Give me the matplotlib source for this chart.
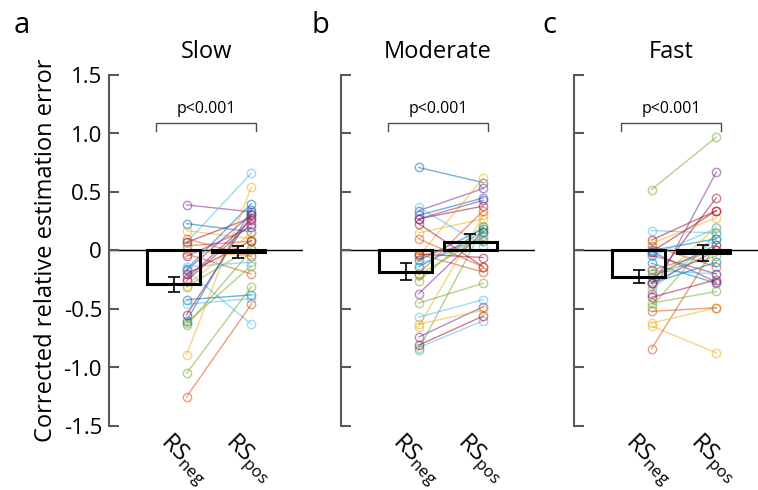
import numpy as np
import matplotlib
matplotlib.use("Agg")
import matplotlib.pyplot as plt

plt.rcParams['font.family'] = ['Open Sans', 'DejaVu Sans']
plt.rcParams['mathtext.fontset'] = 'custom'
plt.rcParams['mathtext.rm'] = 'Open Sans'

speeds = ['Slow', 'Moderate', 'Fast']
letters = ['a', 'b', 'c']
xlabels = [r'$\mathrm{RS}_{\mathrm{neg}}$', r'$\mathrm{RS}_{\mathrm{pos}}$']
p_labels = ['p<0.001', 'p<0.001', 'p<0.001']
yticks = [-1.5, -1.0, -0.5, 0, 0.5, 1.0, 1.5]
yticklabels = ['-1.5', '-1.0', '-0.5', '0', '0.5', '1.0', '1.5']

# one value per subject; subject i gets colour i % 7
slow_neg = [0.23, 0.04, 0.17, 0.39, -0.31, 0.07, 0.07,
            -0.16, -0.03, -0.89, -0.17, -0.62, -0.17, -0.24,
            -0.42, -1.25, 0.00, -0.26, -0.64, -0.46, -0.55,
            -0.60, 0.10, -0.30, -0.05, -1.05, -0.14, -0.20]
slow_pos = [0.16, 0.08, 0.10, 0.33, 0.02, 0.66, 0.28,
            0.40, -0.20, 0.54, 0.31, -0.13, -0.63, 0.26,
            -0.38, -0.46, -0.05, 0.23, 0.00, -0.41, 0.30,
            0.35, -0.05, 0.15, 0.20, -0.31, -0.10, 0.085]

mod_neg = [0.71, -0.03, 0.15, 0.34, -0.26, 0.37, 0.27,
           0.30, -0.05, -0.05, -0.37, -0.85, -0.57, 0.23,
           -0.085, 0.10, -0.65, -0.74, -0.45, -0.83, -0.81,
           -0.14, -0.20, -0.63, 0.27, -0.21, -0.12, -0.03]
mod_pos = [0.58, -0.185, 0.27, 0.53, 0.21, 0.04, 0.38,
           0.45, 0.085, 0.62, 0.16, 0.20, -0.42, -0.14,
           0.185, -0.14, 0.30, -0.48, -0.28, -0.60, -0.56,
           0.16, 0.34, -0.51, 0.43, 0.12, 0.10, -0.06]

fast_neg = [-0.11, 0.04, -0.645, -0.37, 0.52, 0.17, 0.09,
            -0.23, -0.84, -0.62, -0.01, -0.45, -0.17, -0.28,
            -0.28, -0.52, 0.06, -0.04, -0.48, -0.33, -0.01,
            0.00, -0.17, -0.30, -0.28, -0.20, -0.05, -0.40]
fast_pos = [-0.28, -0.14, -0.875, 0.67, 0.97, 0.15, 0.34,
            0.05, 0.05, -0.49, -0.27, -0.35, -0.20, 0.45,
            -0.10, -0.49, 0.28, -0.20, 0.15, 0.10, 0.34,
            0.10, 0.00, 0.20, 0.00, -0.05, 0.19, -0.25]

# group means and SEM (neg, pos)
bar_mean = [[-0.29, -0.015], [-0.18, 0.07], [-0.225, -0.02]]
bar_sem = [[0.065, 0.05], [0.07, 0.07], [0.055, 0.07]]

subjects = [(slow_neg, slow_pos), (mod_neg, mod_pos), (fast_neg, fast_pos)]
colors = ['#0072BD', '#D95319', '#EDB120', '#7E2F8E', '#77AC30', '#4DBEEE', '#A2142F']

fig = plt.figure(figsize=(7.58, 4.9), dpi=100)
lefts = [109, 341, 574]
letter_x = [14, 312, 542]

for k in range(3):
    ax = fig.add_axes([lefts[k] / 758, 64 / 490, 194 / 758, 351 / 490])
    neg, pos = subjects[k]
    for i in range(len(neg)):
        ax.plot([1.2, 2.2], [neg[i], pos[i]], '-o', color=colors[i % 7],
                mfc='none', ms=6, lw=1, mew=1, alpha=0.55, zorder=2)
    ax.axhline(0, color='k', lw=1, zorder=1)
    ax.bar([1, 2], bar_mean[k], width=0.82, facecolor='none', edgecolor='k',
           lw=2.2, zorder=3)
    ax.errorbar([1, 2], bar_mean[k], yerr=bar_sem[k], fmt='none', ecolor='k',
                elinewidth=1.2, capsize=4, capthick=1.2, zorder=4)

    # significance bracket
    ax.plot([0.72, 0.72, 2.27, 2.27], [1.02, 1.09, 1.09, 1.02], color='0.3', lw=1)
    ax.text(1.5, 1.14, p_labels[k], ha='center', va='bottom', fontsize=11.5)

    ax.set_xlim(0, 3)
    ax.set_ylim(-1.5, 1.5)
    for s in ['top', 'right', 'bottom']:
        ax.spines[s].set_visible(False)
    ax.spines['left'].set_color('0.35')
    ax.spines['left'].set_linewidth(1.5)
    ax.set_yticks(yticks)
    ax.tick_params(axis='y', direction='in', length=7, width=1.5, color='0.35',
                   labelsize=16, pad=5)
    if k == 0:
        ax.set_yticklabels(yticklabels)
        ax.set_ylabel('Corrected relative estimation error', fontsize=17, labelpad=4)
    else:
        ax.set_yticklabels([])
    ax.set_xticks([1, 2])
    ax.set_xticklabels(xlabels, rotation=-45, ha='left', va='top',
                       rotation_mode='anchor', fontsize=17)
    ax.tick_params(axis='x', length=0, pad=2)
    ax.set_title(speeds[k], fontsize=17, pad=12)
    fig.text(letter_x[k] / 758, 0.948, letters[k], fontsize=21,
             ha='left', va='center')

fig.savefig('out.png', dpi=100)
